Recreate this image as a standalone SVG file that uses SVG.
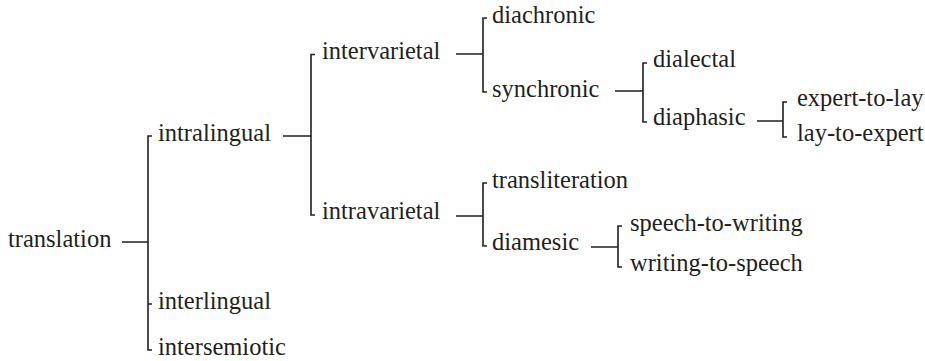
<svg xmlns="http://www.w3.org/2000/svg" width="925" height="361" viewBox="0 0 925 361" font-family="Liberation Serif, Times New Roman, Times, serif">
<style>
.c{fill:none;stroke:#231f20;stroke-width:1.6}
.t{font-family:"Liberation Serif","Times New Roman",Times,serif;font-size:24.5px;fill:#231f20}
</style>
<rect width="925" height="361" fill="#fff"/>
<g id="connectors" class="c">
<path d="M122,242H148M152,136H148V350H152M148,304H152"/>
<path d="M283,136H311M315,54.5H311V215H315"/>
<path d="M456,54H483M487,18H483V92H487"/>
<path d="M615,91H643M647,63H643V122H647"/>
<path d="M757,121H783M787,102H783V137H787"/>
<path d="M456,216H483M487,183H483V246H487"/>
<path d="M591,247H618M622,226H618V267H622"/>
</g>
<g id="n-translation"><text class="t" x="8" y="247">translation</text></g>
<g id="n-intralingual"><text class="t" x="158" y="141">intralingual</text></g>
<g id="n-interlingual"><text class="t" x="158" y="309">interlingual</text></g>
<g id="n-intersemiotic"><text class="t" x="158" y="355">intersemiotic</text></g>
<g id="n-intervarietal"><text class="t" x="322" y="59">intervarietal</text></g>
<g id="n-intravarietal"><text class="t" x="322" y="219">intravarietal</text></g>
<g id="n-diachronic"><text class="t" x="492" y="23">diachronic</text></g>
<g id="n-synchronic"><text class="t" x="492" y="97">synchronic</text></g>
<g id="n-dialectal"><text class="t" x="653" y="67">dialectal</text></g>
<g id="n-diaphasic"><text class="t" x="653" y="125">diaphasic</text></g>
<g id="n-expert-to-lay"><text class="t" x="797" y="106">expert-to-lay</text></g>
<g id="n-lay-to-expert"><text class="t" x="797" y="141">lay-to-expert</text></g>
<g id="n-transliteration"><text class="t" x="492" y="188">transliteration</text></g>
<g id="n-diamesic"><text class="t" x="492" y="250">diamesic</text></g>
<g id="n-speech-to-writing"><text class="t" x="630" y="231">speech-to-writing</text></g>
<g id="n-writing-to-speech"><text class="t" x="630" y="271">writing-to-speech</text></g>
</svg>
